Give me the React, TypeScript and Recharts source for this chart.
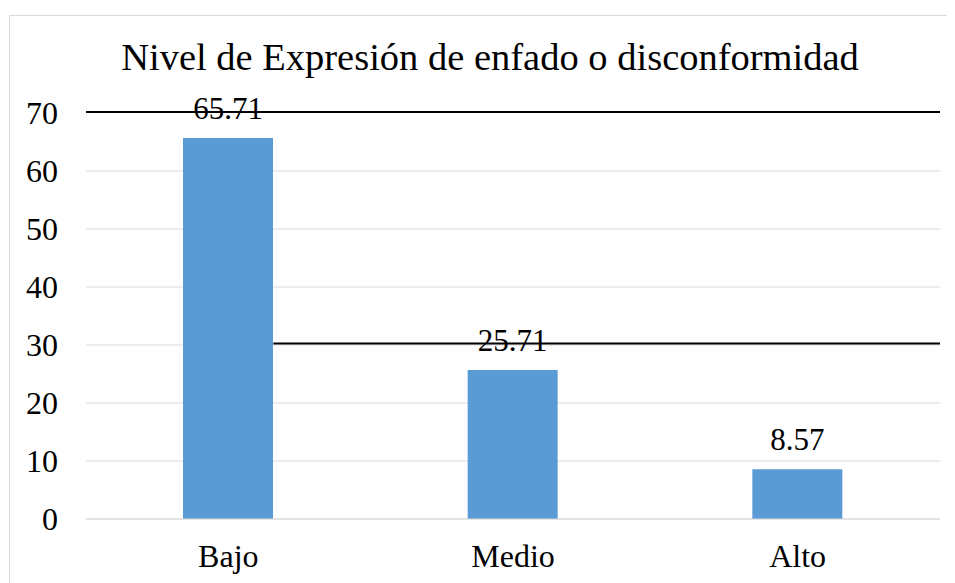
import { Bar, BarChart, CartesianGrid, LabelList, XAxis, YAxis } from "recharts";

const niveles = ["Bajo", "Medio", "Alto"];
const porcentajes = [65.71, 25.71, 8.57];
const yTicks = [0, 10, 20, 30, 40, 50, 60, 70];
const BAR_SIZE = 90;

const data = niveles.map((nivel, i) => ({ nivel, valor: porcentajes[i] }));

const font = '"Liberation Serif"';

// grid: light gray, with the two black rules seen in the original figure
function GridLine(props: any) {
  const { x1, x2, y1, y2, index } = props;
  const value = yTicks[index];
  const gray = <line x1={x1} x2={x2} y1={y1} y2={y2} stroke="#d9d9d9" strokeWidth={1} />;
  if (value === 70) {
    return (
      <line key={props.key} x1={x1} x2={x2} y1={y1 - 1} y2={y2 - 1} stroke="#000" strokeWidth={2} />
    );
  }
  if (value === 30) {
    // black rule starts at the right edge of the first bar
    const band = (x2 - x1) / niveles.length;
    const start = x1 + band / 2 + BAR_SIZE / 2;
    return (
      <g key={props.key}>
        {gray}
        <line x1={start} x2={x2} y1={y1 - 1.5} y2={y2 - 1.5} stroke="#000" strokeWidth={2} />
      </g>
    );
  }
  return <g key={props.key}>{gray}</g>;
}

export default function App() {
  return (
    <div
      style={{
        position: "relative",
        width: 947,
        height: 575,
        overflow: "hidden",
        fontFamily: font,
      }}
    >
      <div
        style={{
          position: "absolute",
          left: 1,
          top: 7,
          width: 1200,
          height: 800,
          border: "1px solid #d9d9d9",
        }}
      />
      <div
        style={{
          position: "absolute",
          left: 0,
          top: 29,
          width: 964,
          textAlign: "center",
          fontFamily: font,
          fontSize: 38.5,
          lineHeight: "40px",
          color: "#000",
        }}
      >
        Nivel de Expresión de enfado o disconformidad
      </div>
      <div style={{ position: "absolute", left: 0, top: 0 }}>
        <BarChart
          width={947}
          height={575}
          data={data}
          margin={{ top: 105, right: 15, left: 0, bottom: 0 }}
        >
          <CartesianGrid vertical={false} horizontal={GridLine} />
          <XAxis
            dataKey="nivel"
            height={64}
            tickSize={0}
            tickMargin={25}
            axisLine={{ stroke: "#d9d9d9" }}
            tickLine={false}
            tick={{ fill: "#000", fontSize: 32, fontFamily: font }}
          />
          <YAxis
            width={78}
            domain={[0, 70]}
            ticks={yTicks}
            tickSize={0}
            tickMargin={28}
            axisLine={false}
            tickLine={false}
            tick={{ fill: "#000", fontSize: 32, fontFamily: font }}
          />
          <Bar dataKey="valor" fill="#5b9bd5" barSize={BAR_SIZE} isAnimationActive={false}>
            <LabelList
              dataKey="valor"
              position="top"
              offset={19}
              formatter={(v: unknown) => Number(v).toFixed(2)}
              style={{ fill: "#000", fontSize: 31, fontFamily: font }}
            />
          </Bar>
        </BarChart>
      </div>
    </div>
  );
}
